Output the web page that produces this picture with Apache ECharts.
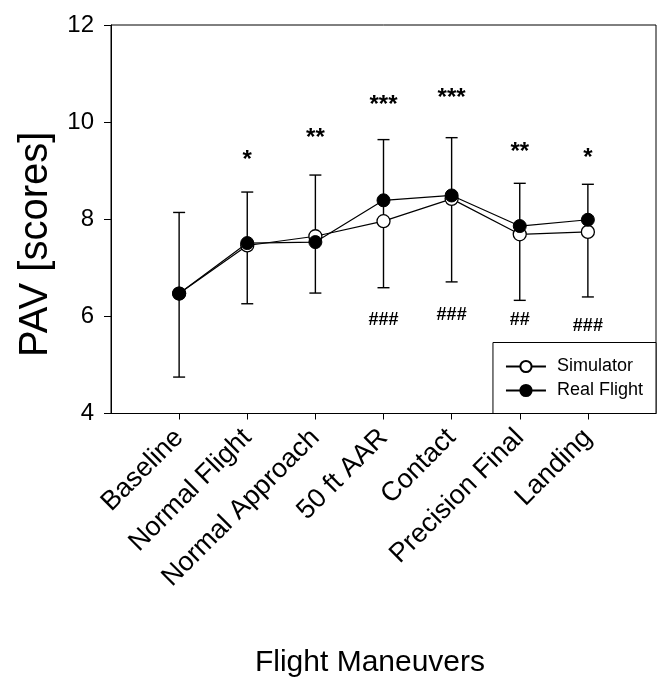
<!DOCTYPE html>
<html>
<head>
<meta charset="utf-8">
<script src="https://cdn.jsdelivr.net/npm/echarts@6/dist/echarts.min.js"></script>
<style>
  html, body { margin: 0; padding: 0; background: #fff; }
  #container { width: 663px; height: 683px; }
</style>
</head>
<body>
<div id="container"></div>
<script>
// chart data
var categories = ['Baseline', 'Normal Flight', 'Normal Approach', '50 ft AAR', 'Contact', 'Precision Final', 'Landing'];
var simulator = [6.47, 7.46, 7.65, 7.96, 8.42, 7.69, 7.74];
var realFlight = [6.47, 7.51, 7.53, 8.39, 8.49, 7.86, 7.99];
var errLow = [4.75, 6.26, 6.48, 6.59, 6.71, 6.33, 6.40];
var errHigh = [8.14, 8.56, 8.91, 9.64, 9.68, 8.74, 8.72];
var stars = ['', '*', '**', '***', '***', '**', '*'];
var starY = [null, 9.31, 9.76, 10.45, 10.60, 9.47, 9.36];
var hashes = ['', '', '', '###', '###', '##', '###'];
var hashY = [null, null, null, 5.92, 6.02, 5.93, 5.80];
var yTicks = [4, 6, 8, 10, 12];

var font = "'Liberation Sans', Arial, sans-serif";
var positions = categories.map(function (c, i) { return i + 1; });

function pairs(vals) {
    return vals.map(function (v, i) { return [i + 1, v]; });
}

var errData = categories.map(function (c, i) { return [i + 1, errLow[i], errHigh[i]]; });
var starData = [];
var hashData = [];
categories.forEach(function (c, i) {
    if (stars[i]) starData.push([i + 1, starY[i], stars[i]]);
    if (hashes[i]) hashData.push([i + 1, hashY[i], hashes[i]]);
});

function textSeries(name, data, size, dy) {
    return {
        name: name,
        type: 'custom',
        data: data,
        z: 5,
        renderItem: function (params, api) {
            var p = api.coord([api.value(0), api.value(1)]);
            return {
                type: 'text',
                style: {
                    x: p[0], y: p[1] + dy,
                    text: data[params.dataIndex][2],
                    fill: '#000',
                    font: 'bold ' + size + 'px ' + font,
                    align: 'center',
                    verticalAlign: 'middle'
                }
            };
        }
    };
}

var dom = document.getElementById('container');
var myChart = echarts.init(dom);
var option = {
    animation: false,
    backgroundColor: '#fff',
    grid: {
        left: 111, right: 7, top: 25, bottom: 269.5,
        show: true, borderColor: '#000', borderWidth: 1
    },
    legend: {
        data: ['Simulator', 'Real Flight'],
        orient: 'vertical',
        right: 7, bottom: 269.5,
        backgroundColor: '#fff',
        borderColor: '#000', borderWidth: 1,
        padding: [15, 13, 14, 12],
        itemWidth: 40, itemHeight: 14, itemGap: 6,
        textStyle: { fontFamily: font, fontSize: 18, color: '#000', padding: [0, 0, 0, 6] }
    },
    xAxis: {
        type: 'value',
        min: 0, max: 8,
        name: 'Flight Maneuvers',
        nameLocation: 'middle',
        nameGap: 234,
        nameTextStyle: { fontFamily: font, fontSize: 30, color: '#000', padding: [0, 27, 0, 0] },
        splitLine: { show: false },
        axisLine: { lineStyle: { color: '#000', width: 1 } },
        axisTick: { show: true, length: 6, customValues: positions, lineStyle: { color: '#000' } },
        axisLabel: {
            customValues: positions,
            rotate: 45,
            margin: 20,
            fontFamily: font, fontSize: 27, color: '#000',
            formatter: function (v) { return categories[Math.round(v) - 1] || ''; }
        }
    },
    yAxis: {
        type: 'value',
        min: 4, max: 12, interval: 2,
        name: 'PAV [scores]',
        nameLocation: 'middle',
        nameGap: 53,
        nameTextStyle: { fontFamily: font, fontSize: 40, color: '#000', padding: [0, 50, 0, 0] },
        splitLine: { show: false },
        axisLine: { show: true, lineStyle: { color: '#000', width: 1 } },
        axisTick: { show: true, length: 7, lineStyle: { color: '#000' } },
        axisLabel: {
            margin: 17,
            fontFamily: font, fontSize: 24, color: '#000',
            formatter: function (v) { return yTicks.indexOf(v) >= 0 ? String(v) : ''; }
        }
    },
    series: [
        {
            name: 'err',
            type: 'custom',
            data: errData,
            z: 1,
            renderItem: function (params, api) {
                var x = api.value(0);
                var lo = api.coord([x, api.value(1)]);
                var hi = api.coord([x, api.value(2)]);
                var w = 6;
                var st = { stroke: '#000', lineWidth: 1.4 };
                return {
                    type: 'group',
                    children: [
                        { type: 'line', shape: { x1: lo[0], y1: lo[1], x2: hi[0], y2: hi[1] }, style: st },
                        { type: 'line', shape: { x1: lo[0] - w, y1: lo[1], x2: lo[0] + w, y2: lo[1] }, style: st },
                        { type: 'line', shape: { x1: hi[0] - w, y1: hi[1], x2: hi[0] + w, y2: hi[1] }, style: st }
                    ]
                };
            }
        },
        {
            name: 'Simulator',
            type: 'line',
            data: pairs(simulator),
            z: 3,
            symbol: 'circle',
            symbolSize: 13,
            lineStyle: { color: '#000', width: 1.2 },
            itemStyle: { color: '#fff', borderColor: '#000', borderWidth: 1.3 }
        },
        {
            name: 'Real Flight',
            type: 'line',
            data: pairs(realFlight),
            z: 4,
            symbol: 'circle',
            symbolSize: 13,
            lineStyle: { color: '#000', width: 1.2 },
            itemStyle: { color: '#000', borderColor: '#000', borderWidth: 1 }
        },
        textSeries('stars', starData, 24, 5),
        textSeries('hashes', hashData, 18, 0)
    ]
};
if (option && typeof option === "object") {
    myChart.setOption(option, true);
}
</script>
</body>
</html>
